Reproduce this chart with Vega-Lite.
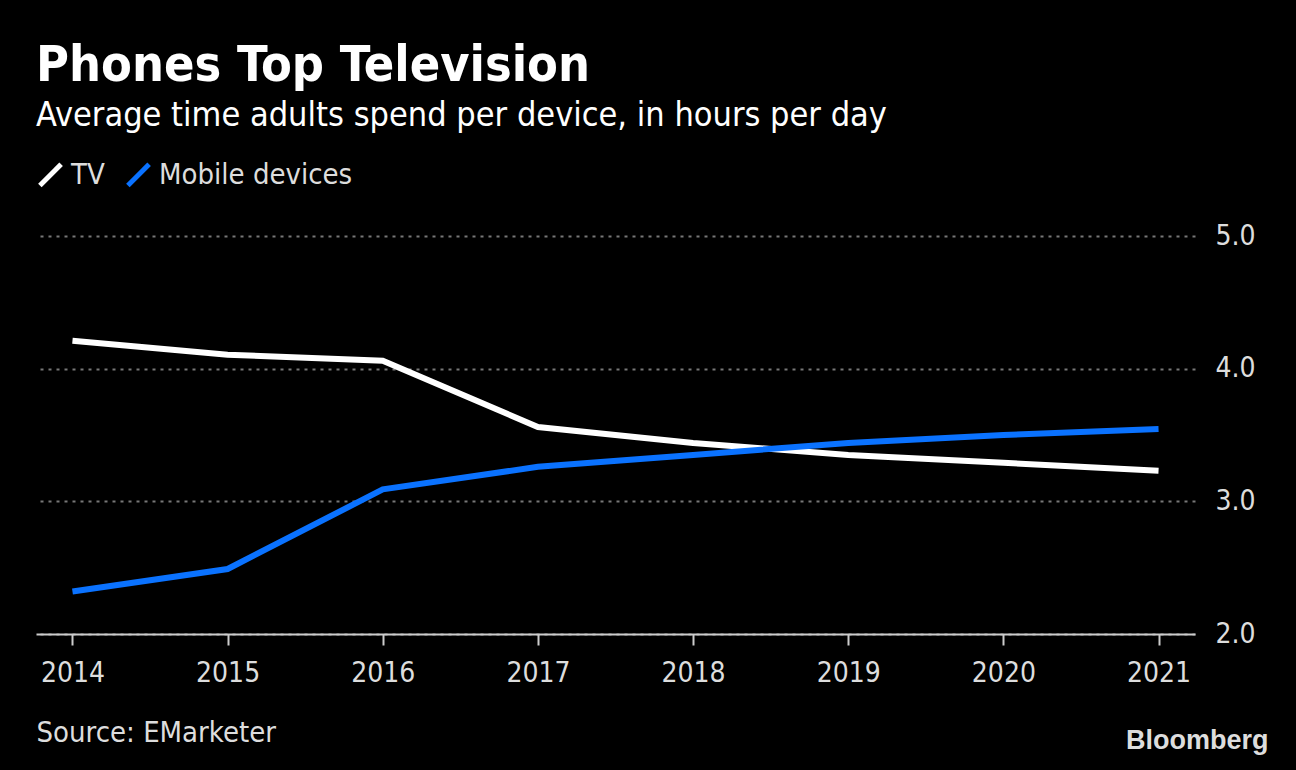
{
  "$schema": "https://vega.github.io/schema/vega-lite/v6.json",
  "width": 1159,
  "height": 398,
  "autosize": "none",
  "padding": {"left": 36, "top": 236, "right": 101, "bottom": 136},
  "background": "#000000",
  "config": {
    "view": {"stroke": null},
    "font": "DejaVu Sans Condensed"
  },
  "title": {
    "text": "Phones Top Television",
    "subtitle": "Average time adults spend per device, in hours per day",
    "anchor": "start",
    "frame": "group",
    "offset": 27,
    "font": "DejaVu Sans Condensed",
    "fontSize": 50,
    "fontWeight": "bold",
    "color": "#ffffff",
    "subtitleFont": "DejaVu Sans Condensed",
    "subtitleFontSize": 34,
    "subtitleColor": "#ffffff",
    "subtitlePadding": 8
  },
  "data": {
    "values": [
      {"year": "2014", "series": "TV", "hours": 4.21},
      {"year": "2015", "series": "TV", "hours": 4.105},
      {"year": "2016", "series": "TV", "hours": 4.06},
      {"year": "2017", "series": "TV", "hours": 3.56},
      {"year": "2018", "series": "TV", "hours": 3.44},
      {"year": "2019", "series": "TV", "hours": 3.35},
      {"year": "2020", "series": "TV", "hours": 3.29},
      {"year": "2021", "series": "TV", "hours": 3.23},
      {"year": "2014", "series": "Mobile devices", "hours": 2.32},
      {"year": "2015", "series": "Mobile devices", "hours": 2.49},
      {"year": "2016", "series": "Mobile devices", "hours": 3.09},
      {"year": "2017", "series": "Mobile devices", "hours": 3.26},
      {"year": "2018", "series": "Mobile devices", "hours": 3.35},
      {"year": "2019", "series": "Mobile devices", "hours": 3.44},
      {"year": "2020", "series": "Mobile devices", "hours": 3.50},
      {"year": "2021", "series": "Mobile devices", "hours": 3.545}
    ]
  },
  "mark": {"type": "line", "strokeWidth": 6, "strokeJoin": "miter"},
  "encoding": {
    "x": {
      "field": "year",
      "type": "ordinal",
      "scale": {"type": "point", "padding": 0.235},
      "axis": {
        "labelAngle": 0,
        "labelFontSize": 28,
        "labelColor": "#dddddd",
        "labelPadding": 14,
        "domainColor": "#cccccc",
        "domainWidth": 2,
        "tickColor": "#cccccc",
        "tickWidth": 2,
        "tickSize": 11,
        "grid": false,
        "zindex": 1,
        "title": "Source: EMarketer",
        "titleFont": "DejaVu Sans Condensed",
        "titleFontSize": 29,
        "titleFontWeight": "normal",
        "titleColor": "#dddddd",
        "titleAnchor": "start",
        "titleAlign": "left",
        "titleX": 0,
        "titleY": 98,
        "titleBaseline": "middle"
      }
    },
    "y": {
      "field": "hours",
      "type": "quantitative",
      "scale": {"domain": [2, 5], "nice": false, "zero": false},
      "axis": {
        "orient": "right",
        "values": [2, 3, 4, 5],
        "format": ".1f",
        "labelFontSize": 28,
        "labelColor": "#dddddd",
        "labelPadding": 20,
        "domain": false,
        "ticks": false,
        "grid": true,
        "gridColor": "#777777",
        "gridWidth": 2,
        "gridDash": [3, 5],
        "title": "Bloomberg",
        "titleAngle": 0,
        "titleFont": "Liberation Sans",
        "titleFontSize": 27,
        "titleFontWeight": "bold",
        "titleColor": "#dddddd",
        "titleAlign": "right",
        "titleBaseline": "middle",
        "titleX": 73,
        "titleY": 504
      }
    },
    "color": {
      "field": "series",
      "type": "nominal",
      "scale": {"domain": ["TV", "Mobile devices"], "range": ["#ffffff", "#0a72ff"]},
      "legend": {
        "orient": "none",
        "legendX": 0,
        "legendY": -76,
        "direction": "horizontal",
        "title": null,
        "symbolType": "M-1,1L1,-1",
        "symbolStrokeWidth": 5,
        "symbolSize": 450,
        "labelFontSize": 29,
        "labelColor": "#dddddd",
        "labelFont": "DejaVu Sans Condensed",
        "labelLimit": 400,
        "columnPadding": 12,
        "labelOffset": 6
      }
    }
  }
}
